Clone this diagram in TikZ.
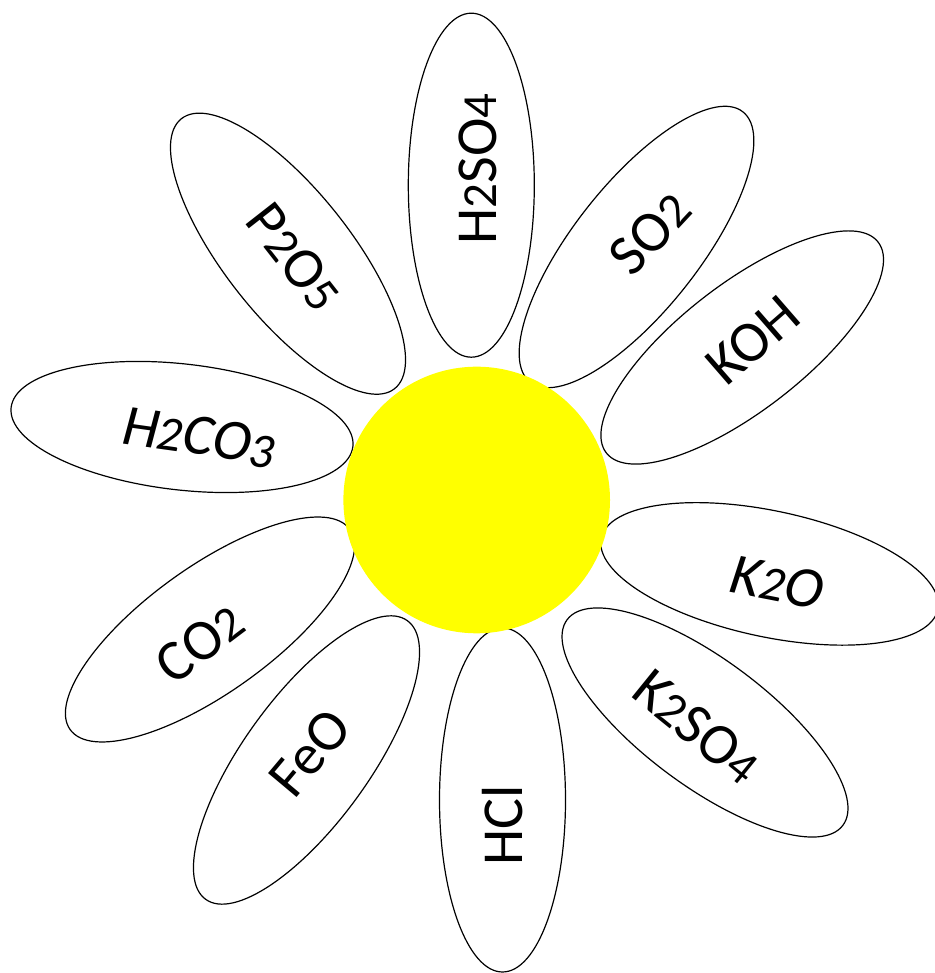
\documentclass[tikz,border=0pt]{standalone}
\usepackage{fontspec}
\setmainfont{Carlito}
\usetikzlibrary{shapes.geometric}
\definecolor{centreyellow}{RGB}{255,255,0}
\newcommand\sbd[1]{{\fontsize{49}{50}\selectfont #1}}
\tikzset{
  petal/.style={ellipse, draw=black, line width=1.2pt, fill=white,
    minimum width=344pt, minimum height=126pt, inner sep=0pt},
  lbl/.style={font=\fontsize{58}{60}\selectfont, inner sep=0pt, anchor=center},
  centre/.style={circle, fill=centreyellow, minimum size=266.6pt, inner sep=0pt}
}
\begin{document}
\begin{tikzpicture}[x=1pt,y=1pt]
\useasboundingbox (0,0) rectangle (934,973);
% petals
\node[petal, rotate=90]    (p1)  at (471.3,787.8) {};
\node[petal, rotate=51.8]  (p2)  at (636.5,726) {};
\node[petal, rotate=37.8]  (p3)  at (742.2,625.5) {};
\node[petal, rotate=-12]   (p4)  at (769.5,399.1) {};
\node[petal, rotate=-36.7] (p5)  at (705,250.5) {};
\node[petal, rotate=90]    (p6)  at (502.5,173) {};
\node[petal, rotate=54.1]  (p7)  at (306.5,213) {};
\node[petal, rotate=35.6]  (p8)  at (210,343.5) {};
\node[petal, rotate=-6.5]  (p9)  at (182,546) {};
\node[petal, rotate=-51.7] (p10) at (288,719.3) {};
% centre
\node[centre] (c) at (476.7,473) {};
% labels
\node[lbl, rotate=90]  (t1)  at (477.5,804) {H\sbd{2}SO\sbd{4}};
\node[lbl, rotate=47]  (t2)  at (650,740) {SO\sbd{2}};
\node[lbl, rotate=41]  (t3)  at (753,633) {KOH};
\node[lbl, rotate=-11, xslant=0.12] (t4) at (778,390) {K\sbd{2}O};
\node[lbl, rotate=-39] (t5)  at (697,246) {K\sbd{2}SO\sbd{4}};
\node[lbl, rotate=90]  (t6)  at (503,148) {HCl};
\node[lbl, rotate=50]  (t7)  at (310,220) {FeO};
\node[lbl, rotate=37]  (t8)  at (200,330) {CO\sbd{2}};
\node[lbl, rotate=-8, xslant=0.12] (t9) at (200,535) {H\sbd{2}CO\raisebox{-4pt}{\sbd{3}}};
\node[lbl, rotate=-52] (t10) at (295,716) {P\sbd{2}O\sbd{5}};
\end{tikzpicture}
\end{document}
